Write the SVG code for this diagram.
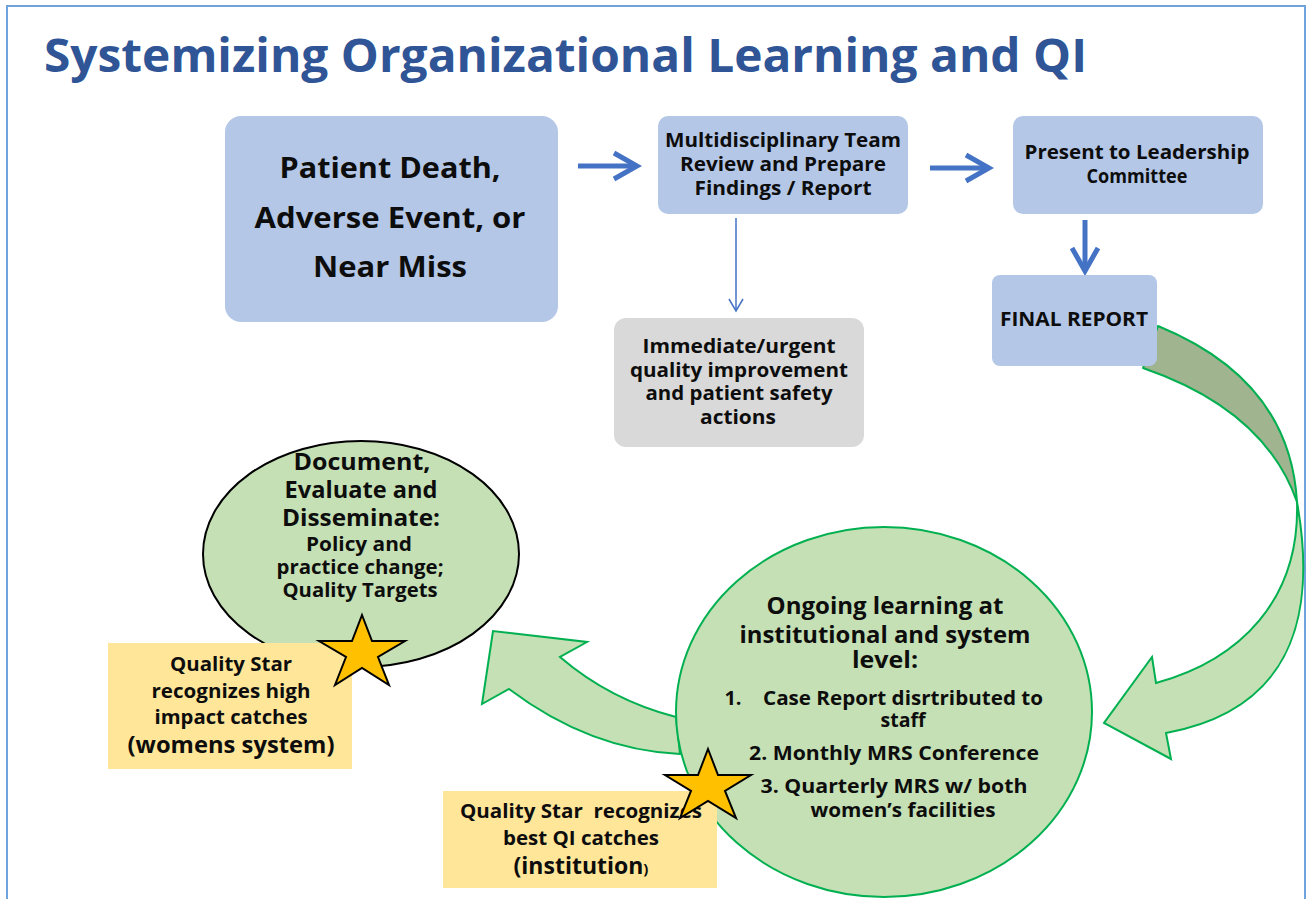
<svg xmlns="http://www.w3.org/2000/svg" width="1307" height="899" viewBox="0 0 1307 899">
<style>
.t{font-family:"Open Sans",Lato,"Liberation Sans",sans-serif;font-weight:700;fill:#0d0d0d;text-anchor:middle}
.s{font-size:20px}
.m{font-size:23px}
.blue{fill:#B4C7E7}
.thick{fill:none;stroke:#4472C4;stroke-width:5}
.thin{fill:none;stroke:#4472C4;stroke-width:1.5}
.star{fill:#FFC000;stroke:#000;stroke-width:2;stroke-linejoin:miter}
.note{fill:#FFE699}
</style>
<defs>
<marker id="chev" markerUnits="userSpaceOnUse" markerWidth="32" markerHeight="32" viewBox="0 0 32 32" refX="27" refY="16" orient="auto">
<path d="M4,3 L27,16 L4,29" fill="none" stroke="#4472C4" stroke-width="5"/>
</marker>
<marker id="chevs" markerUnits="userSpaceOnUse" markerWidth="16" markerHeight="16" viewBox="0 0 16 16" refX="14" refY="8" orient="auto">
<path d="M2,1 L14,8 L2,15" fill="none" stroke="#4472C4" stroke-width="1.5"/>
</marker>
</defs>
<rect x="0" y="0" width="1307" height="899" fill="#fff"/>
<rect x="7" y="6" width="1298" height="920" fill="none" stroke="#6FA3DC" stroke-width="2"/>
<text x="44" y="72" textLength="1043" lengthAdjust="spacingAndGlyphs" style="font-family:'Open Sans',Lato,'Liberation Sans',sans-serif;font-weight:700;font-size:46px;fill:#2F5597">Systemizing Organizational Learning and QI</text>

<g id="connectors">
<path d="M578,166 L637,166" class="thick" marker-end="url(#chev)"/>
<path d="M930,168 L989,168" class="thick" marker-end="url(#chev)"/>
<path d="M1085,220 L1085,271" class="thick" marker-end="url(#chev)"/>
<path d="M736,218 L736,311" class="thin" marker-end="url(#chevs)"/>
<path id="curve-right-back" d="M1158,326 Q1290,380 1297,502 Q1265,410 1143,368 Z" fill="#9FB48F" stroke="#00B050" stroke-width="2" stroke-linejoin="round"/>
<path id="curve-right-front" d="M1297,502 C1318,620 1290,710 1166,733 L1171,759 L1104,723 L1152,657 L1156,683 C1240,660 1300,600 1297,502 Z" fill="#C5E0B4" stroke="#00B050" stroke-width="2"/>
<path id="curve-left" d="M676,717 Q610,700 560,657 L587,642 L493,631 L482,704 L509,689 Q590,750 680,754 Z" fill="#C5E0B4" stroke="#00B050" stroke-width="2"/>
</g>

<g id="event">
<rect x="225" y="116" width="333" height="206" rx="16" class="blue"/>
<text class="t" style="font-size:29px" x="390" y="178" textLength="221" lengthAdjust="spacingAndGlyphs">Patient Death,</text>
<text class="t" style="font-size:29px" x="390" y="228" textLength="271" lengthAdjust="spacingAndGlyphs">Adverse Event, or</text>
<text class="t" style="font-size:29px" x="390" y="277" textLength="154" lengthAdjust="spacingAndGlyphs">Near Miss</text>
</g>

<g id="review">
<rect x="658" y="116" width="250" height="98" rx="10" class="blue"/>
<text class="t s" x="783" y="147" textLength="236" lengthAdjust="spacingAndGlyphs">Multidisciplinary Team</text>
<text class="t s" x="783" y="171" textLength="206" lengthAdjust="spacingAndGlyphs">Review and Prepare</text>
<text class="t s" x="783" y="195" textLength="177" lengthAdjust="spacingAndGlyphs">Findings / Report</text>
</g>

<g id="present">
<rect x="1013" y="116" width="250" height="98" rx="10" class="blue"/>
<text class="t s" x="1137" y="159" textLength="225" lengthAdjust="spacingAndGlyphs">Present to Leadership</text>
<text class="t s" x="1137" y="183" textLength="101" lengthAdjust="spacingAndGlyphs">Committee</text>
</g>

<g id="final">
<rect x="992" y="275" width="165" height="91" rx="8" class="blue"/>
<text class="t s" x="1074" y="326" textLength="148" lengthAdjust="spacingAndGlyphs">FINAL REPORT</text>
</g>

<g id="immediate">
<rect x="614" y="318" width="250" height="129" rx="12" fill="#D9D9D9"/>
<text class="t s" x="739" y="353" textLength="193" lengthAdjust="spacingAndGlyphs">Immediate/urgent</text>
<text class="t s" x="739" y="377" textLength="218" lengthAdjust="spacingAndGlyphs">quality improvement</text>
<text class="t s" x="739" y="400" textLength="187" lengthAdjust="spacingAndGlyphs">and patient safety</text>
<text class="t s" x="738" y="424" textLength="76" lengthAdjust="spacingAndGlyphs">actions</text>
</g>

<g id="document">
<ellipse cx="361" cy="554" rx="158" ry="113" fill="#C5E0B4" stroke="#000" stroke-width="2"/>
<text class="t m" x="362" y="470" textLength="137" lengthAdjust="spacingAndGlyphs">Document,</text>
<text class="t m" x="361" y="498" textLength="153" lengthAdjust="spacingAndGlyphs">Evaluate and</text>
<text class="t m" x="361" y="526" textLength="158" lengthAdjust="spacingAndGlyphs">Disseminate:</text>
<text class="t s" x="359" y="551" textLength="106" lengthAdjust="spacingAndGlyphs">Policy and</text>
<text class="t s" x="360" y="574" textLength="167" lengthAdjust="spacingAndGlyphs">practice change;</text>
<text class="t s" x="360" y="597" textLength="155" lengthAdjust="spacingAndGlyphs">Quality Targets</text>
</g>

<g id="star-note-system">
<rect x="108" y="643" width="244" height="126" class="note"/>
<text class="t s" x="231" y="671" textLength="122" lengthAdjust="spacingAndGlyphs">Quality Star</text>
<text class="t s" x="231" y="698" textLength="159" lengthAdjust="spacingAndGlyphs">recognizes high</text>
<text class="t s" x="231" y="724" textLength="153" lengthAdjust="spacingAndGlyphs">impact catches</text>
<text class="t m" x="231" y="753" textLength="207" lengthAdjust="spacingAndGlyphs">(womens system)</text>
<polygon class="star" points="362,615 372,641 405,641 378,657 389,685 362,668 335,685 346,657 319,641 352,641"/>
</g>

<g id="ongoing">
<ellipse cx="884" cy="712" rx="208" ry="185" fill="#C5E0B4" stroke="#00B050" stroke-width="2"/>
<text class="t m" x="885" y="614" textLength="237" lengthAdjust="spacingAndGlyphs">Ongoing learning at</text>
<text class="t m" x="885" y="643" textLength="291" lengthAdjust="spacingAndGlyphs">institutional and system</text>
<text class="t m" x="885" y="668" textLength="66" lengthAdjust="spacingAndGlyphs">level:</text>
<text class="t s" x="733" y="705">1.</text>
<text class="t s" x="903" y="705" textLength="280" lengthAdjust="spacingAndGlyphs">Case Report disrtributed to</text>
<text class="t s" x="903" y="727" textLength="45" lengthAdjust="spacingAndGlyphs">staff</text>
<text class="t s" x="894" y="760" textLength="290" lengthAdjust="spacingAndGlyphs">2. Monthly MRS Conference</text>
<text class="t s" x="894" y="793" textLength="267" lengthAdjust="spacingAndGlyphs">3. Quarterly MRS w/ both</text>
<text class="t s" x="903" y="817" textLength="185" lengthAdjust="spacingAndGlyphs">women’s facilities</text>
</g>

<g id="star-note-institution">
<rect x="443" y="791" width="274" height="97" class="note"/>
<text class="t s" x="581" y="818" textLength="242" lengthAdjust="spacingAndGlyphs" style="white-space:pre">Quality Star  recognizes</text>
<text class="t s" x="581" y="845" textLength="156" lengthAdjust="spacingAndGlyphs">best QI catches</text>
<text class="t m" x="581" y="874">(institution<tspan style="font-size:15px">)</tspan></text>
<polygon class="star" points="708,749 718,775 751,775 725,791 736,818 708,801 680,818 691,791 665,775 698,775"/>
</g>
</svg>
